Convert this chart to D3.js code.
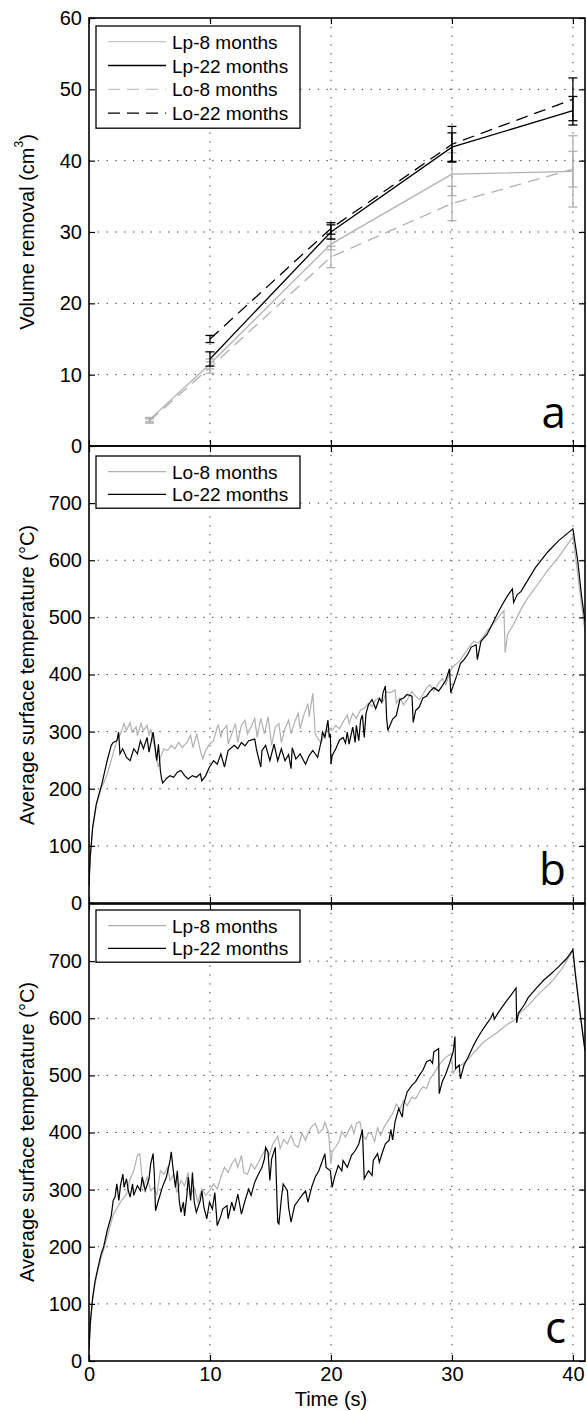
<!DOCTYPE html>
<html>
<head>
<meta charset="utf-8">
<script src="https://cdn.jsdelivr.net/npm/d3@7"></script>
<style>
  body { margin: 0; background: #fff; }
  text { font-family: "Liberation Sans", Arial, sans-serif; }
</style>
</head>
<body>
<svg id="fig" width="587" height="1411"></svg>
<script>
// ---- data ----
var timeTicks = [0, 10, 20, 30, 40];
var volTicks = [0, 10, 20, 30, 40, 50, 60];
var tempTicks = [0, 100, 200, 300, 400, 500, 600, 700];

// panel a: volume removal, mean and error at each time
var lp8Time = [5, 10, 20, 30, 40];
var lp8Vol = [3.7, 11.5, 28.3, 38.1, 38.5];
var lp8Err = [0.3, 0.7, 0.8, 3.0, 5.0];

var lp22Time = [10, 20, 30, 40];
var lp22Vol = [12.2, 30.0, 41.9, 47.0];
var lp22Err = [1.0, 1.0, 2.0, 2.0];

var lo8Time = [5, 10, 20, 30, 40];
var lo8Vol = [3.5, 11.0, 26.5, 34.0, 38.8];
var lo8Err = [0.3, 0.8, 1.5, 2.4, 2.5];

var lo22Time = [10, 20, 30, 40];
var lo22Vol = [15.0, 30.5, 42.3, 48.6];
var lo22Err = [0.5, 0.8, 2.5, 3.0];

// panel b: Lo surface temperature [time, temp]
var lo8Temp = [[0,30],[0.1,80],[0.3,130],[0.6,170],[1.0,200],[1.5,225],[2.0,262],[2.3,284],[2.6,296],[2.9,314],[3.1,302],[3.4,316],[3.56,299],[3.9,308],[4.0,293],[4.3,314],[4.5,302],[4.8,311],[4.96,293],[5.1,305],[5.3,284],[5.43,273],[5.6,249],[5.74,238],[5.9,255],[6.2,270],[6.5,267],[6.8,276],[7.1,270],[7.4,281],[7.7,272],[8.1,281],[8.4,293],[8.6,272],[8.9,296],[9.2,267],[9.4,252],[9.65,267],[9.96,278],[10.3,284],[10.6,308],[10.7,311],[10.9,290],[11.05,302],[11.4,311],[11.5,278],[11.8,296],[12.1,314],[12.3,281],[12.6,311],[12.9,320],[13.1,296],[13.4,308],[13.7,323],[13.9,290],[14.2,323],[14.5,296],[14.8,326],[15.1,276],[15.4,308],[15.7,314],[15.9,281],[16.2,305],[16.5,320],[16.7,296],[17.0,317],[17.3,332],[17.45,305],[17.8,332],[18.1,349],[18.2,326],[18.5,367],[18.7,296],[19.0,285],[19.2,281],[19.5,299],[19.8,305],[20.1,302],[20.4,311],[20.7,305],[21.0,317],[21.35,329],[21.5,314],[21.8,332],[22.1,323],[22.45,338],[22.75,341],[23.1,350],[23.4,344],[23.7,356],[24.0,359],[24.3,353],[24.6,370],[24.9,368],[25.3,373],[25.4,350],[25.7,359],[26.0,347],[26.3,356],[26.7,370],[27.0,362],[27.3,356],[27.6,365],[27.9,377],[28.2,382],[28.5,371],[28.9,385],[29.2,393],[29.5,382],[29.8,403],[30.1,414],[30.6,423],[31.0,435],[31.5,450],[31.8,458],[32.2,455],[32.9,476],[33.4,488],[33.8,499],[34.3,512],[34.4,438],[34.6,470],[35.1,488],[35.7,514],[36.3,535],[37.1,558],[37.9,582],[38.8,605],[39.5,626],[40.0,641],[40.4,576],[40.7,523],[41.0,476]];

var lo22Temp = [[0,30],[0.1,80],[0.3,132],[0.6,173],[1.06,208],[1.5,249],[1.84,276],[2.0,281],[2.3,284],[2.45,299],[2.56,261],[2.78,270],[3.1,255],[3.4,249],[3.7,270],[4.0,261],[4.25,284],[4.5,270],[4.8,290],[4.96,264],[5.3,299],[5.43,278],[5.6,249],[5.74,278],[5.9,232],[6.0,217],[6.1,210],[6.4,218],[6.7,223],[7.0,220],[7.3,229],[7.6,232],[7.9,223],[8.2,217],[8.55,223],[8.87,220],[9.2,226],[9.33,214],[9.65,223],[9.96,238],[10.3,249],[10.6,243],[10.9,261],[11.2,238],[11.5,267],[12.0,276],[12.3,270],[12.6,281],[12.9,275],[13.2,284],[13.7,287],[13.86,267],[14.2,238],[14.3,267],[14.6,276],[14.95,249],[15.3,278],[15.6,249],[15.9,270],[16.2,249],[16.5,260],[16.7,235],[16.8,272],[17.1,252],[17.45,261],[17.9,243],[18.2,258],[18.5,267],[18.9,255],[19.2,284],[19.3,299],[19.5,290],[19.65,308],[19.75,320],[19.86,290],[19.95,296],[20.0,243],[20.1,258],[20.4,270],[20.7,285],[21.0,290],[21.2,280],[21.35,299],[21.5,278],[21.8,308],[22.0,281],[22.1,311],[22.3,284],[22.45,320],[22.6,329],[22.75,290],[22.9,332],[23.1,347],[23.4,356],[23.7,340],[24.0,358],[24.2,351],[24.3,368],[24.5,380],[24.6,325],[24.7,302],[25.1,322],[25.4,328],[25.7,356],[26.0,359],[26.3,365],[26.7,362],[26.8,316],[27.0,337],[27.3,343],[27.6,359],[27.9,362],[28.2,371],[28.5,377],[28.9,371],[29.2,380],[29.5,390],[29.8,410],[29.9,368],[30.1,380],[30.4,398],[30.7,419],[31.0,426],[31.3,435],[31.6,448],[32.0,452],[32.1,426],[32.4,458],[32.9,470],[33.4,491],[33.8,508],[34.1,520],[34.6,538],[35.0,550],[35.1,526],[35.4,540],[35.7,545],[36.1,559],[36.9,587],[37.9,614],[38.8,634],[40.0,655],[40.4,599],[40.7,540],[41.0,493]];

// panel c: Lp surface temperature [time, temp]
var lp8Temp = [[0,23],[0.12,65],[0.3,105],[0.5,135],[0.75,160],[1.0,180],[1.5,216],[2.0,256],[2.6,278],[3.1,292],[3.4,319],[3.7,333],[4.0,360],[4.2,363],[4.3,339],[4.5,304],[4.8,322],[5.1,298],[5.4,304],[5.6,290],[5.9,333],[6.2,327],[6.5,339],[6.7,316],[7.0,327],[7.25,295],[7.6,316],[7.9,307],[8.2,330],[8.4,290],[8.7,304],[9.0,278],[9.33,301],[9.65,290],[9.96,298],[10.3,310],[10.6,301],[10.9,322],[11.2,339],[11.5,330],[11.8,345],[12.1,354],[12.3,339],[12.6,360],[12.8,330],[13.1,327],[13.4,345],[13.7,336],[14.0,348],[14.3,360],[14.6,371],[14.9,360],[15.2,380],[15.6,393],[15.8,372],[16.1,388],[16.4,380],[16.7,395],[17.0,378],[17.3,374],[17.6,399],[17.9,386],[18.2,404],[18.4,410],[18.7,416],[19.0,399],[19.3,405],[19.5,418],[19.8,400],[20.0,345],[20.1,366],[20.4,375],[20.7,386],[20.9,402],[21.2,392],[21.5,405],[21.7,413],[21.9,398],[22.1,416],[22.4,419],[22.6,395],[22.9,388],[23.1,400],[23.4,396],[23.6,384],[23.85,408],[24.1,395],[24.4,410],[24.7,420],[25.1,433],[25.4,450],[25.7,441],[26.0,456],[26.3,447],[26.7,462],[27.0,459],[27.3,471],[27.6,480],[27.9,477],[28.2,494],[28.5,503],[29.0,520],[29.5,532],[29.95,538],[30.1,503],[30.4,514],[30.9,520],[31.5,532],[32.0,544],[32.6,558],[33.2,567],[33.8,576],[34.5,588],[35.1,596],[35.7,611],[36.3,622],[37.2,643],[38.2,663],[39.1,687],[40.0,718],[40.4,648],[41.0,543]];

var lp22Temp = [[0,23],[0.12,70],[0.3,111],[0.5,140],[0.75,164],[1.0,187],[1.2,199],[1.5,228],[1.84,254],[2.0,281],[2.15,287],[2.3,310],[2.47,281],[2.6,307],[2.8,327],[2.9,304],[3.1,319],[3.25,298],[3.4,287],[3.6,310],[3.7,290],[4.0,307],[4.25,298],[4.4,322],[4.65,298],[4.96,319],[5.1,345],[5.3,363],[5.4,327],[5.5,263],[5.74,281],[6.06,304],[6.4,322],[6.7,351],[6.8,366],[7.0,327],[7.15,304],[7.3,333],[7.46,281],[7.6,260],[7.8,278],[7.9,254],[8.1,292],[8.2,322],[8.4,281],[8.55,330],[8.7,278],[8.87,260],[9.2,281],[9.33,298],[9.5,269],[9.74,249],[9.96,278],[10.2,266],[10.4,295],[10.6,237],[10.9,254],[11.05,266],[11.4,272],[11.5,249],[11.8,278],[12.0,263],[12.3,292],[12.6,257],[12.9,281],[13.2,301],[13.4,290],[13.7,313],[14.0,327],[14.3,339],[14.5,354],[14.6,374],[14.8,366],[14.95,316],[15.1,354],[15.4,374],[15.6,243],[15.7,240],[15.9,284],[16.05,310],[16.4,298],[16.5,269],[16.7,243],[17.0,272],[17.3,281],[17.6,290],[17.9,298],[18.1,278],[18.4,304],[18.7,322],[19.0,333],[19.3,351],[19.5,363],[19.6,339],[19.95,333],[20.1,304],[20.3,322],[20.6,342],[20.9,333],[21.0,351],[21.35,339],[21.7,360],[22.0,368],[22.3,380],[22.6,405],[22.75,319],[23.1,333],[23.4,325],[23.5,351],[23.85,363],[24.0,348],[24.3,368],[24.5,380],[24.8,386],[24.95,405],[25.1,387],[25.3,419],[25.6,442],[25.9,427],[26.0,448],[26.3,471],[26.7,483],[27.0,489],[27.3,500],[27.6,509],[27.9,524],[28.2,527],[28.4,521],[28.5,541],[28.9,547],[28.95,468],[29.2,489],[29.5,503],[29.8,521],[30.1,541],[30.25,568],[30.3,512],[30.6,518],[30.7,494],[31.0,518],[31.3,530],[31.8,553],[32.1,565],[32.6,582],[32.9,591],[33.2,600],[33.4,609],[33.5,598],[33.8,609],[34.5,630],[34.9,641],[35.3,653],[35.35,592],[35.5,609],[36.0,624],[36.3,636],[37.0,653],[37.6,667],[38.2,678],[38.8,690],[39.5,705],[40.0,720],[40.2,677],[40.6,607],[41.0,543]];

// ---- layout ----
var left = 89, right = 585;
var grayCol = "#b0b0b0";

var svg = d3.select("#fig");

var x = d3.scaleLinear().domain([0, 41]).range([left, right]);

// draws frame, grid and ticks of one panel, returns clipped group for data
function setPanel(id, top, bottom, y, yTicks, showX) {
    var g = svg.append("g").attr("id", id);

    g.append("clipPath").attr("id", "clip-" + id)
        .append("rect")
        .attr("x", left).attr("y", top)
        .attr("width", right - left).attr("height", bottom - top);

    // dotted grid
    g.selectAll(".gy").data(yTicks.filter(d => y(d) > top + 1 && y(d) < bottom - 1))
        .enter().append("line")
        .attr("x1", left).attr("x2", right)
        .attr("y1", d => y(d)).attr("y2", d => y(d))
        .attr("stroke", "#333").attr("stroke-width", 1)
        .attr("stroke-dasharray", "1.3,7.5");
    g.selectAll(".gx").data(timeTicks.filter(d => d > 0))
        .enter().append("line")
        .attr("x1", d => x(d)).attr("x2", d => x(d))
        .attr("y1", top).attr("y2", bottom)
        .attr("stroke", "#333").attr("stroke-width", 1)
        .attr("stroke-dasharray", "1.3,7.5");

    var data = g.append("g").attr("clip-path", "url(#clip-" + id + ")");

    // axes with inward ticks
    var ax = g.append("g").attr("class", "axes");
    ax.append("g").attr("transform", `translate(${left},0)`)
        .call(d3.axisLeft(y).tickValues(yTicks).tickSize(-6).tickPadding(7));
    ax.append("g").attr("transform", `translate(${right},0)`)
        .call(d3.axisRight(y).tickValues(yTicks).tickSize(-6).tickFormat(""));
    var xl = ax.append("g").attr("transform", `translate(0,${bottom})`)
        .call(d3.axisBottom(x).tickValues(timeTicks).tickSize(-6).tickPadding(6));
    ax.append("g").attr("transform", `translate(0,${top})`)
        .call(d3.axisTop(x).tickValues(timeTicks).tickSize(-6).tickFormat(""));
    if (!showX) xl.selectAll("text").remove();

    ax.selectAll(".domain").remove();
    ax.selectAll("line").attr("stroke", "#000").attr("stroke-width", 1.2);
    ax.selectAll("text")
        .attr("font-family", "Liberation Sans, Arial, sans-serif")
        .attr("font-size", 20).attr("fill", "#000");

    g.append("rect")
        .attr("x", left).attr("y", top)
        .attr("width", right - left).attr("height", bottom - top)
        .attr("fill", "none").attr("stroke", "#000").attr("stroke-width", 1.6);

    return {g: g, data: data};
}

function addLegend(g, top, rowH, entries) {
    var h = entries.length * rowH + 7;
    g.append("rect")
        .attr("x", 96).attr("y", top)
        .attr("width", 204).attr("height", h)
        .attr("fill", "#fff").attr("stroke", "#000").attr("stroke-width", 1.3);
    entries.forEach(function(e, i) {
        var cy = top + 15.7 + i * rowH;
        g.append("line")
            .attr("x1", 108).attr("x2", 166)
            .attr("y1", cy).attr("y2", cy)
            .attr("stroke", e.color).attr("stroke-width", 1.3)
            .attr("stroke-dasharray", e.dash ? "12,7" : null);
        g.append("text")
            .attr("x", 172).attr("y", cy + 7)
            .attr("font-size", 19)
            .text(e.label);
    });
}

function addLetter(g, bottom, letter) {
    g.append("text")
        .attr("x", 566).attr("y", bottom - 18)
        .attr("text-anchor", "end")
        .style("font-family", "Open Sans, DejaVu Sans, sans-serif")
        .attr("font-size", 44)
        .text(letter);
}

function yLabel(g, cy, txt, sup) {
    var t = g.append("text")
        .attr("transform", `translate(27,${cy}) rotate(-90)`)
        .attr("text-anchor", "middle")
        .attr("dominant-baseline", "central")
        .attr("font-size", 20)
        .text(txt);
    if (sup) {
        t.append("tspan").attr("font-size", 12).attr("dy", -8).text(sup);
        t.append("tspan").attr("dy", 8).text(")");
    }
}

// ---- panel a ----
var ya = d3.scaleLinear().domain([0, 60]).range([446, 18]);
var pa = setPanel("pa", 18, 446, ya, volTicks, false);

var volSeries = [
    {t: lp8Time, v: lp8Vol, e: lp8Err, color: grayCol, dash: false},
    {t: lo8Time, v: lo8Vol, e: lo8Err, color: grayCol, dash: true},
    {t: lp22Time, v: lp22Vol, e: lp22Err, color: "#000", dash: false},
    {t: lo22Time, v: lo22Vol, e: lo22Err, color: "#000", dash: true}
];
var volLine = d3.line().x(d => x(d[0])).y(d => ya(d[1]));
volSeries.forEach(function(s) {
    var pts = s.t.map((d, i) => [d, s.v[i], s.e[i]]);
    pa.data.append("path").datum(pts)
        .attr("d", volLine)
        .attr("fill", "none").attr("stroke", s.color).attr("stroke-width", 1.3)
        .attr("stroke-dasharray", s.dash ? "12,7" : null);
    var eb = pa.data.append("g").attr("stroke", s.color).attr("stroke-width", 1.3);
    eb.selectAll(".v").data(pts).enter().append("line")
        .attr("x1", d => x(d[0])).attr("x2", d => x(d[0]))
        .attr("y1", d => ya(d[1] - d[2])).attr("y2", d => ya(d[1] + d[2]));
    eb.selectAll(".lo").data(pts).enter().append("line")
        .attr("x1", d => x(d[0]) - 4.5).attr("x2", d => x(d[0]) + 4.5)
        .attr("y1", d => ya(d[1] - d[2])).attr("y2", d => ya(d[1] - d[2]));
    eb.selectAll(".hi").data(pts).enter().append("line")
        .attr("x1", d => x(d[0]) - 4.5).attr("x2", d => x(d[0]) + 4.5)
        .attr("y1", d => ya(d[1] + d[2])).attr("y2", d => ya(d[1] + d[2]));
});
addLegend(pa.g, 26, 23.8, [
    {label: "Lp-8 months", color: "#c4c4c4", dash: false},
    {label: "Lp-22 months", color: "#000", dash: false},
    {label: "Lo-8 months", color: "#c4c4c4", dash: true},
    {label: "Lo-22 months", color: "#000", dash: true}
]);
addLetter(pa.g, 446, "a");
yLabel(pa.g, 232, "Volume removal (cm", "3");

// ---- panel b ----
var yb = d3.scaleLinear().domain([0, 800]).range([903, 446]);
var pb = setPanel("pb", 446, 903, yb, tempTicks, false);
var lineB = d3.line().x(d => x(d[0])).y(d => yb(d[1]));
pb.data.append("path").datum(lo8Temp).attr("d", lineB)
    .attr("fill", "none").attr("stroke", grayCol).attr("stroke-width", 1.2);
pb.data.append("path").datum(lo22Temp).attr("d", lineB)
    .attr("fill", "none").attr("stroke", "#000").attr("stroke-width", 1.2);
addLegend(pb.g, 456, 22.6, [
    {label: "Lo-8 months", color: grayCol, dash: false},
    {label: "Lo-22 months", color: "#000", dash: false}
]);
addLetter(pb.g, 903, "b");
yLabel(pb.g, 675, "Average surface temperature (\u00B0C)");

// ---- panel c ----
var yc = d3.scaleLinear().domain([0, 800]).range([1361, 904]);
var pc = setPanel("pc", 904, 1361, yc, tempTicks, true);
var lineC = d3.line().x(d => x(d[0])).y(d => yc(d[1]));
pc.data.append("path").datum(lp8Temp).attr("d", lineC)
    .attr("fill", "none").attr("stroke", grayCol).attr("stroke-width", 1.2);
pc.data.append("path").datum(lp22Temp).attr("d", lineC)
    .attr("fill", "none").attr("stroke", "#000").attr("stroke-width", 1.2);
addLegend(pc.g, 910, 22.6, [
    {label: "Lp-8 months", color: grayCol, dash: false},
    {label: "Lp-22 months", color: "#000", dash: false}
]);
addLetter(pc.g, 1361, "c");
yLabel(pc.g, 1132, "Average surface temperature (\u00B0C)");

// x axis title
svg.append("text")
    .attr("x", x(20)).attr("y", 1406)
    .attr("text-anchor", "middle")
    .attr("font-size", 20)
    .text("Time (s)");
</script>
</body>
</html>
